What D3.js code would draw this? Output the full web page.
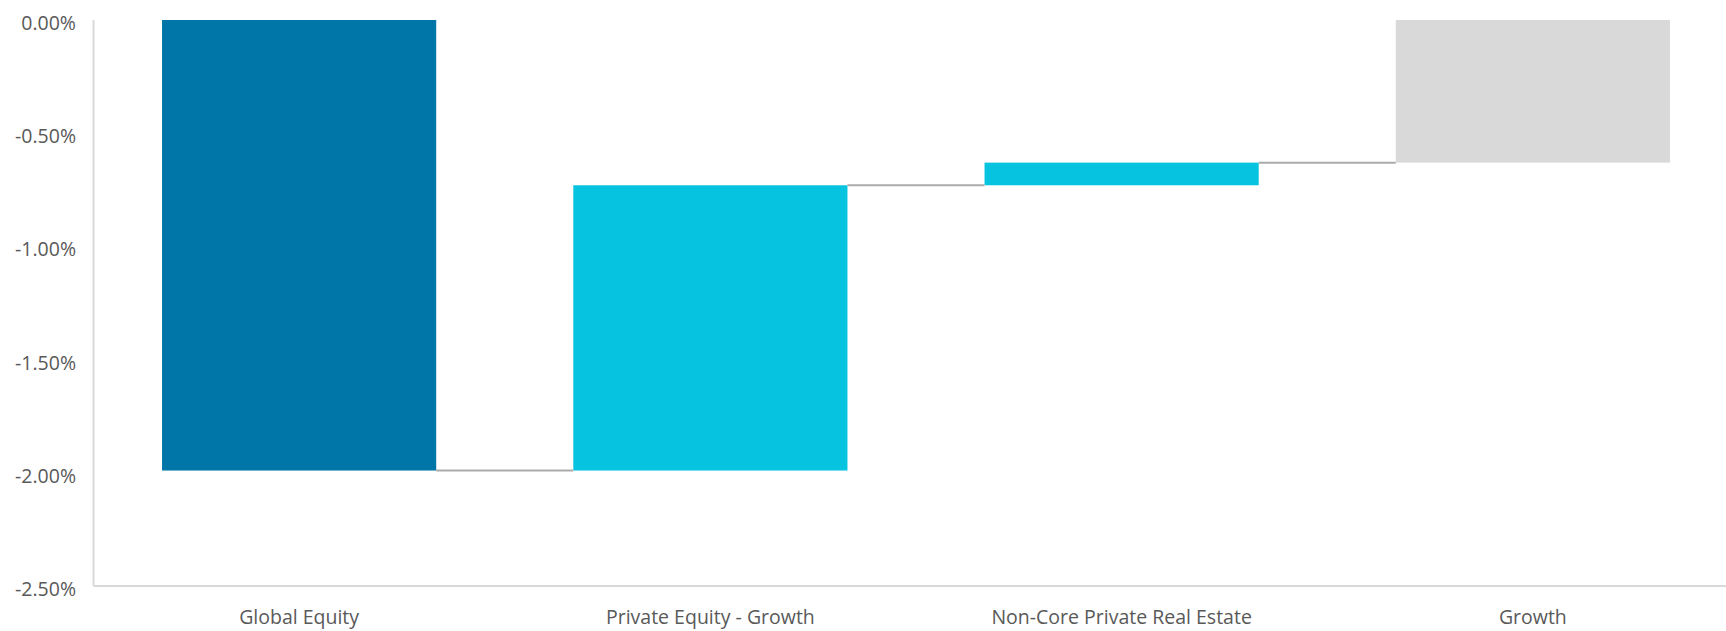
<!DOCTYPE html>
<html>
<head>
<meta charset="utf-8">
<script src="https://cdn.jsdelivr.net/npm/d3@7"></script>
<style>
  html, body { margin: 0; padding: 0; background: #ffffff; }
  svg { display: block; }
  text { font-family: "Open Sans", "Noto Sans", sans-serif; fill: #595959; }
</style>
</head>
<body>
<script>
// Attribution steps (percentage points) and the final total
const categories = ["Global Equity", "Private Equity - Growth", "Non-Core Private Real Estate", "Growth"];
const steps = [-1.99, 1.26, 0.10];      // contribution of each component
const totalValue = -0.63;              // resulting total for "Growth"
const barKinds = ["base", "step", "step", "total"];
const yTicks = [0, -0.5, -1.0, -1.5, -2.0, -2.5];

const colors = { base: "#0075A8", step: "#06C3E0", total: "#D9D9D9" };

const W = 1726, H = 631;
const plot = { left: 93.5, right: 1738.5, top: 20, bottom: 586 };

const svg = d3.select("body").append("svg").attr("width", W).attr("height", H);

const x = d3.scaleBand()
  .domain(categories)
  .range([plot.left, plot.right])
  .paddingInner(1 / 3)
  .paddingOuter(1 / 6);

const y = d3.scaleLinear().domain([-2.5, 0]).range([plot.bottom, plot.top]);

// Running totals: each bar spans from the previous level to the new one
const bars = [];
let level = 0;
categories.forEach((c, i) => {
  if (barKinds[i] === "total") {
    bars.push({ cat: c, from: 0, to: totalValue, kind: "total" });
    level = totalValue;
  } else {
    const next = level + steps[i];
    bars.push({ cat: c, from: level, to: next, kind: barKinds[i] });
    level = next;
  }
});

const fmt = v => (v < 0 ? "-" : "") + Math.abs(v).toFixed(2) + "%";

// Axis lines
const axisColor = "#D9D9D9";
svg.append("line")
  .attr("x1", plot.left).attr("x2", plot.left)
  .attr("y1", y(0)).attr("y2", y(-2.5))
  .attr("stroke", axisColor).attr("stroke-width", 2);
svg.append("line")
  .attr("x1", plot.left).attr("x2", W)
  .attr("y1", y(-2.5)).attr("y2", y(-2.5))
  .attr("stroke", axisColor).attr("stroke-width", 2);

// Y tick labels
svg.append("g").selectAll("text")
  .data(yTicks)
  .join("text")
  .attr("x", 76)
  .attr("y", d => y(d) + 10)
  .attr("text-anchor", "end")
  .attr("font-size", 19.5)
  .text(fmt);

// Bars
svg.append("g").selectAll("rect")
  .data(bars)
  .join("rect")
  .attr("x", d => x(d.cat))
  .attr("width", x.bandwidth())
  .attr("y", d => y(Math.max(d.from, d.to)))
  .attr("height", d => Math.abs(y(d.from) - y(d.to)))
  .attr("fill", d => colors[d.kind]);

// Connectors between consecutive bars at the running level
const connectors = bars.slice(0, -1).map((b, i) => ({
  x1: x(b.cat) + x.bandwidth(),
  x2: x(bars[i + 1].cat),
  v: b.to
}));
svg.append("g").selectAll("line")
  .data(connectors)
  .join("line")
  .attr("x1", d => d.x1).attr("x2", d => d.x2)
  .attr("y1", d => y(d.v)).attr("y2", d => y(d.v))
  .attr("stroke", "#ABABAB").attr("stroke-width", 2);

// Category labels
svg.append("g").selectAll("text")
  .data(categories)
  .join("text")
  .attr("x", d => x(d) + x.bandwidth() / 2)
  .attr("y", 624)
  .attr("text-anchor", "middle")
  .attr("font-size", 19.5)
  .text(d => d);
</script>
</body>
</html>
